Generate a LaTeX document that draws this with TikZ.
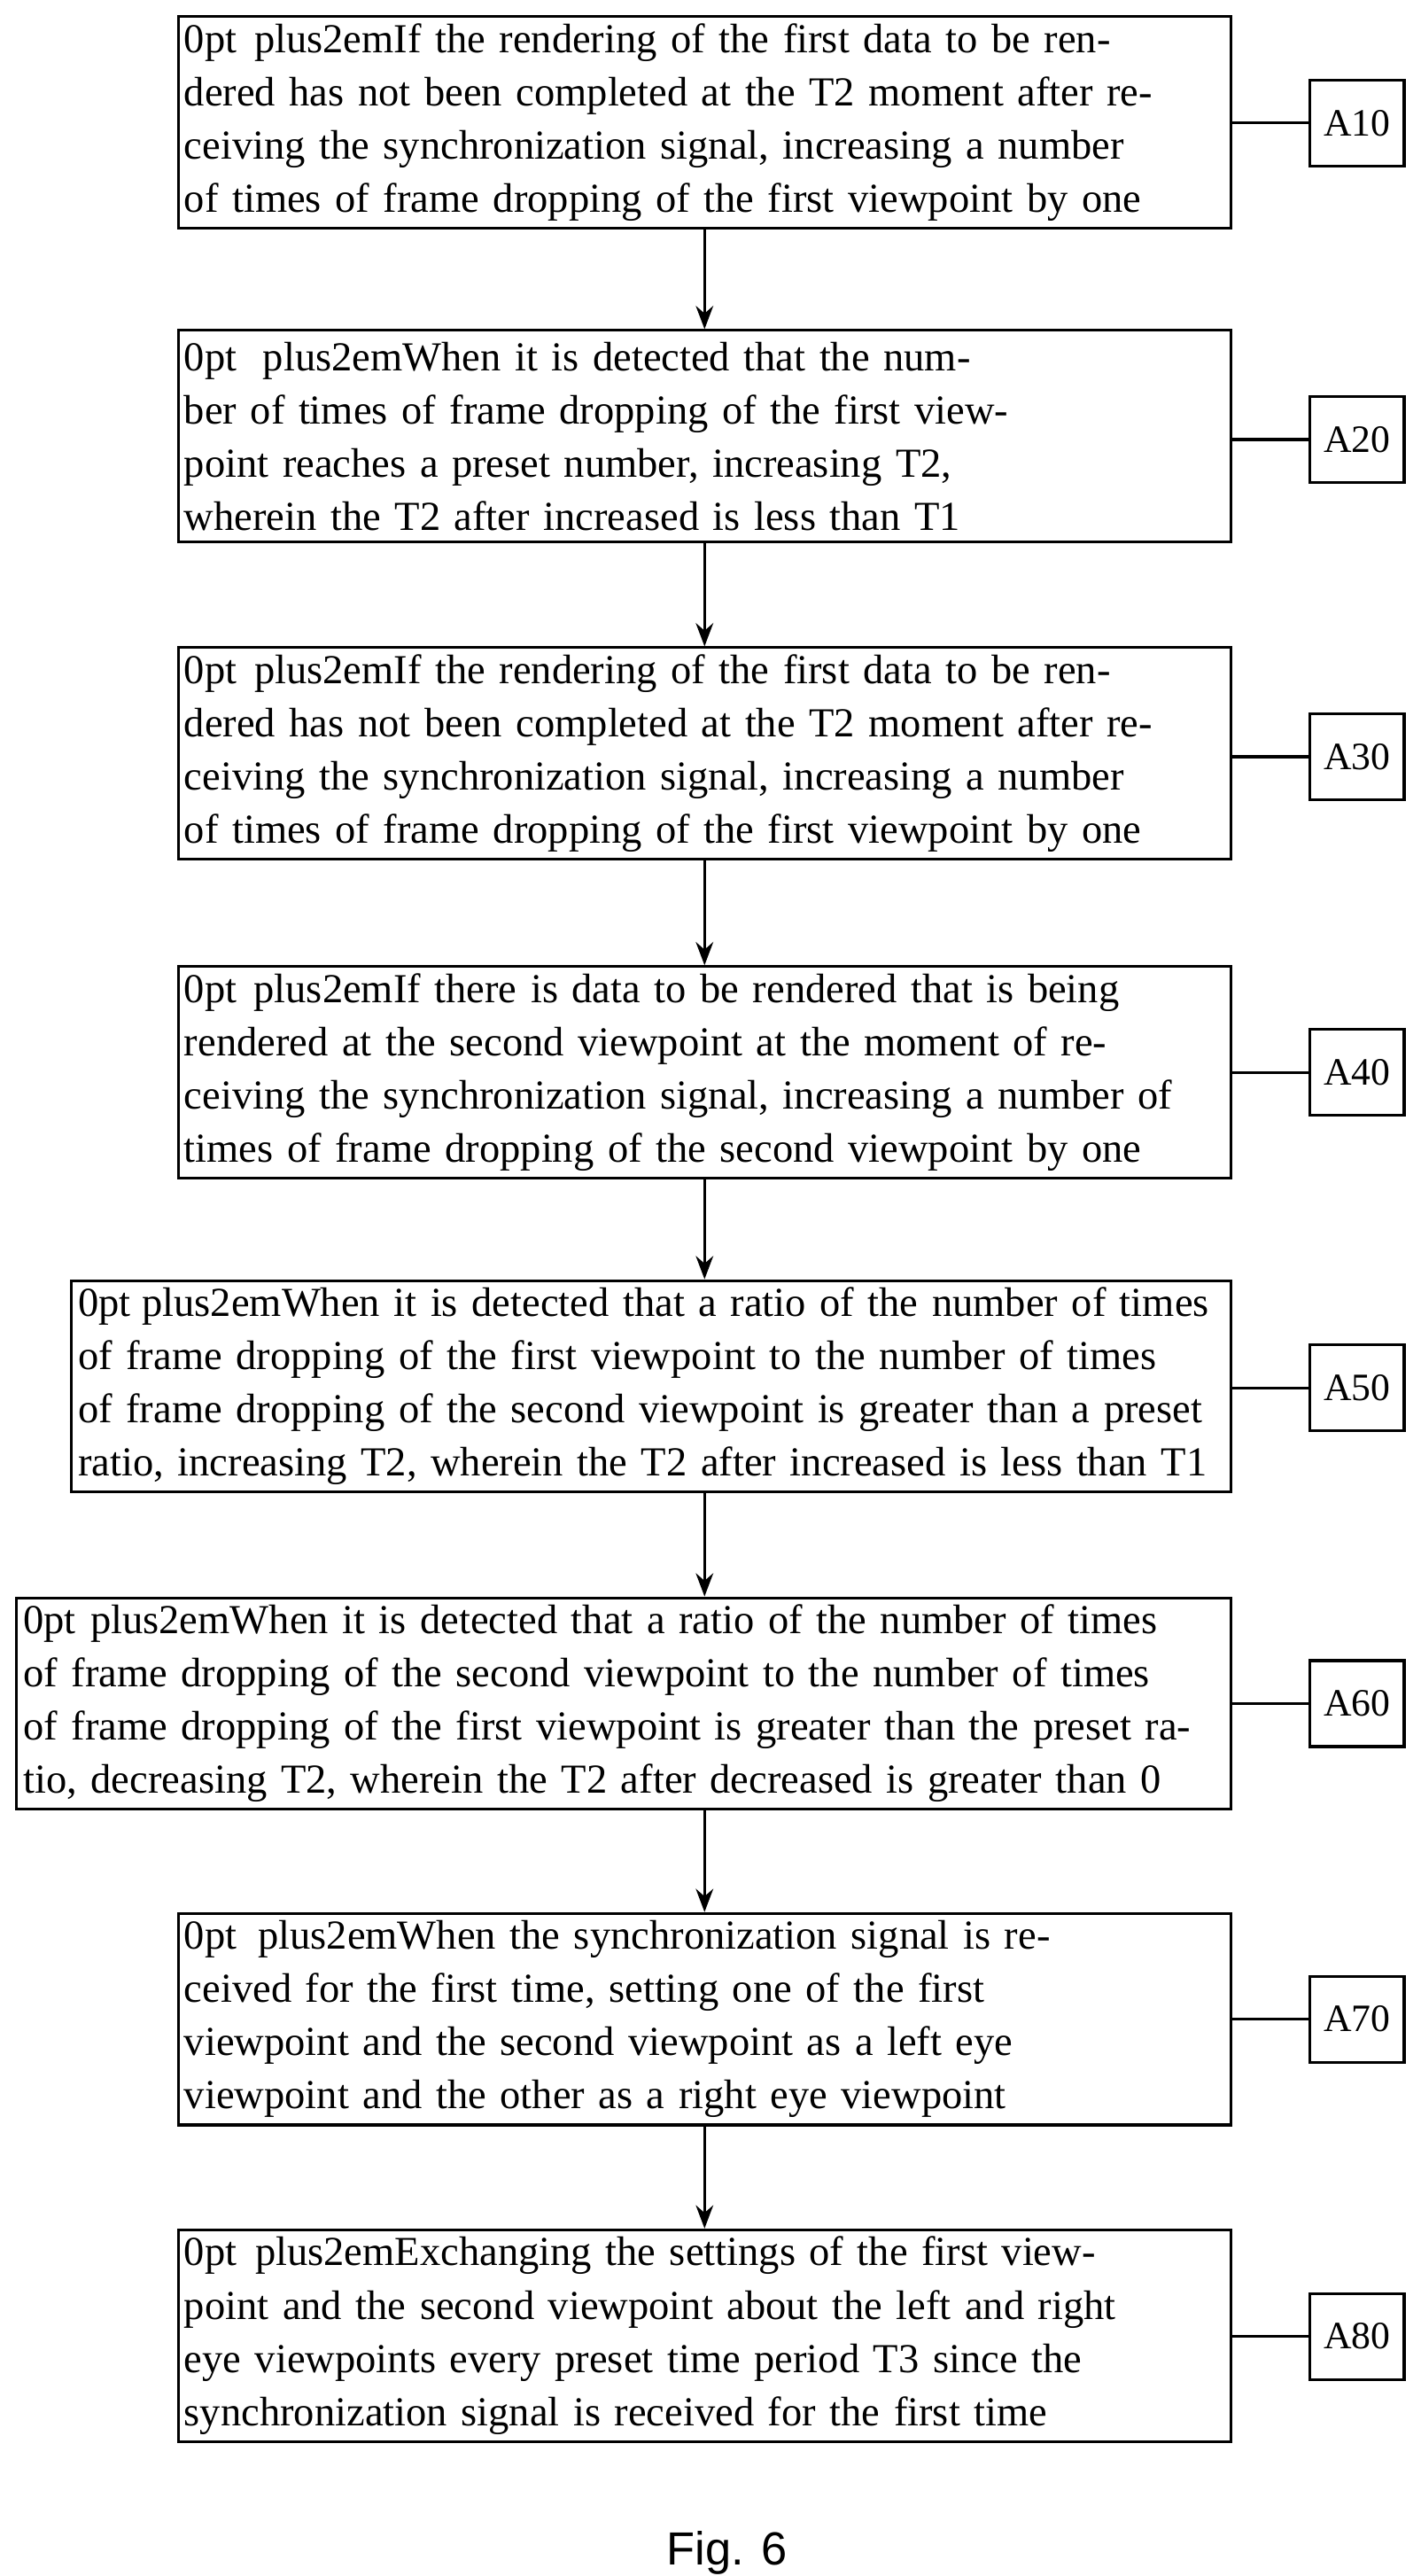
\documentclass[tikz,border=0pt]{standalone}
\usepackage{fontspec}
\setmainfont{Liberation Serif}
\newfontfamily\capfont{Liberation Sans}
\usetikzlibrary{arrows.meta, positioning}
\begin{document}
\begin{tikzpicture}[x=0.03cm, y=-0.03cm,
    stage/.style = {draw, line width=1.4pt, minimum height=3.84cm, align=center, inner sep=2pt,
                   font=\fontsize{21.3}{27.5}\selectfont\hyphenpenalty=10000},
    tag/.style = {draw, line width=1.4pt, minimum width=1.71cm, minimum height=1.56cm,
                  font=\fontsize{20}{24}\selectfont},
    flow/.style = {-{Stealth[length=12pt, width=9pt]}, line width=1.4pt},
    link/.style = {line width=1.4pt}]
    \useasboundingbox (0,0) rectangle (860,1559);
    % stages
    \node (s1) [stage, text width=18.9cm, minimum width=19.11cm] at (426.5,74)
        {If the rendering of the first data to be rendered has not been completed at the T2 moment after receiving the synchronization signal, increasing a number of times of frame dropping of the first viewpoint by one};
    \node (s2) [stage, text width=18.9cm, minimum width=19.11cm] at (426.5,264)
        {When it is detected that the number of times of frame dropping of the first viewpoint reaches a preset number, increasing T2, wherein the T2 after increased is less than T1};
    \node (s3) [stage, text width=18.9cm, minimum width=19.11cm] at (426.5,456)
        {If the rendering of the first data to be rendered has not been completed at the T2 moment after receiving the synchronization signal, increasing a number of times of frame dropping of the first viewpoint by one};
    \node (s4) [stage, text width=18.9cm, minimum width=19.11cm] at (426.5,649)
        {If there is data to be rendered that is being rendered at the second viewpoint at the moment of receiving the synchronization signal, increasing a number of times of frame dropping of the second viewpoint by one};
    \node (s5) [stage, text width=20.8cm, minimum width=21.06cm] at (394,839)
        {When it is detected that a ratio of the number of times of frame dropping of the first viewpoint to the number of times of frame dropping of the second viewpoint is greater than a preset ratio, increasing T2, wherein the T2 after increased is less than T1};
    \node (s6) [stage, text width=21.8cm, minimum width=22.05cm] at (377.5,1031)
        {When it is detected that a ratio of the number of times of frame dropping of the second viewpoint to the number of times of frame dropping of the first viewpoint is greater than the preset ratio, decreasing T2, wherein the T2 after decreased is greater than 0};
    \node (s7) [stage, text width=18.9cm, minimum width=19.11cm] at (426.5,1222)
        {When the synchronization signal is received for the first time, setting one of the first viewpoint and the second viewpoint as a left eye viewpoint and the other as a right eye viewpoint};
    \node (s8) [stage, text width=18.9cm, minimum width=19.11cm] at (426.5,1413.5)
        {Exchanging the settings of the first viewpoint and the second viewpoint about the left and right eye viewpoints every preset time period T3 since the synchronization signal is received for the first time};
    % tags
    \node (a1) [tag] at (821.5,74.5) {A10};
    \node (a2) [tag] at (821.5,266) {A20};
    \node (a3) [tag] at (821.5,458) {A30};
    \node (a4) [tag] at (821.5,649) {A40};
    \node (a5) [tag] at (821.5,840) {A50};
    \node (a6) [tag] at (821.5,1031) {A60};
    \node (a7) [tag] at (821.5,1222) {A70};
    \node (a8) [tag] at (821.5,1414) {A80};
    \foreach \i in {1,...,8}
        \draw [link] (a\i.west) -- (a\i.west -| s1.east);
    \foreach \i/\j in {1/2,2/3,3/4,4/5,5/6,6/7,7/8}
        \draw [flow] (s\i.south -| s1.south) -- (s\j.north -| s1.north);
    \node (cap) at (440,1545) {\capfont\fontsize{24}{28}\selectfont Fig. 6};
\end{tikzpicture}
\end{document}
